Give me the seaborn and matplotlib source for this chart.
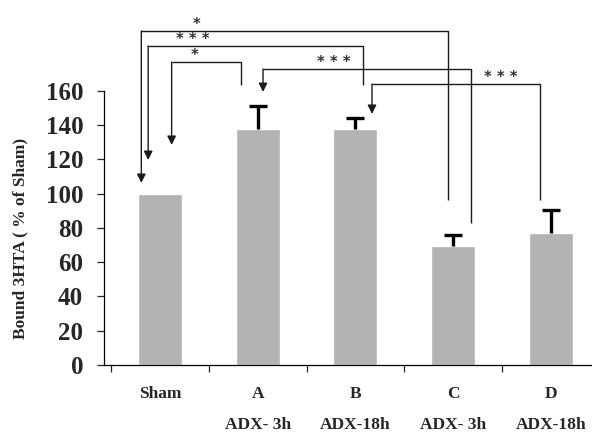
import matplotlib.pyplot as plt
import seaborn as sns
import numpy as np
import pandas as pd

# ---- Data ----
groups = ["Sham", "A", "B", "C", "D"]
treatments = ["", "ADX- 3h", "ADX-18h", "ADX- 3h", "ADX-18h"]
bound_pct = [100, 138, 137.5, 69.5, 77]
err_up = [0, 13, 6.5, 6.5, 13.5]
y_ticks = [0, 20, 40, 60, 80, 100, 120, 140, 160]

# significance brackets: (arrow x, arrow tip y, top y, other x, other end y, label, label x)
brackets = [
    (-0.19, 106.3, 195.0, 2.95, 96.4, "*", 0.37),
    (-0.12, 119.7, 186.3, 2.08, 163.5, "* * *", 0.34),
    (0.12, 128.5, 176.9, 0.83, 163.5, "*", 0.35),
    (1.055, 159.4, 172.8, 3.18, 82.9, "* * *", 1.78),
    (2.17, 146.6, 164.1, 3.89, 96.4, "* * *", 3.49),
]

sns.set_style("white")
plt.rcParams["font.family"] = ["Liberation Serif", "DejaVu Serif"]
plt.rcParams["font.weight"] = "bold"

W, H = 592, 433
fig = plt.figure(figsize=(W / 100, H / 100), dpi=100)
ax = fig.add_axes([104 / W, 68 / H, (W - 104) / W, 365 / H])

df = pd.DataFrame({"group": groups, "value": bound_pct})
sns.barplot(data=df, x="group", y="value", color="#b3b3b3", saturation=1,
            width=0.45, errorbar=None, ax=ax)

# upper-only error bars (no cap at the bar top)
pos = np.arange(len(groups))
vals = np.array(bound_pct)
errs = np.array(err_up)
has_err = errs > 0
_, caps, _ = ax.errorbar(pos[has_err], vals[has_err],
                         yerr=[np.zeros(has_err.sum()), errs[has_err]], fmt="none",
                         ecolor="black", elinewidth=2.4, capsize=6.5, capthick=2.4)
caps[0].set_visible(False)

# ---- Axes ----
ax.set_xlim(-0.572, 4.421)
ax.set_ylim(0, 213.1)
for s in ["top", "right"]:
    ax.spines[s].set_visible(False)
ax.spines["left"].set_bounds(0, 160)
for s in ["left", "bottom"]:
    ax.spines[s].set_color("black")
    ax.spines[s].set_linewidth(0.9)

ax.set_yticks(y_ticks)
ax.set_yticklabels([str(t) for t in y_ticks], fontsize=18, fontweight="bold")
ax.tick_params(axis="y", direction="out", length=5, width=0.9, pad=10, left=True)

ax.set_xticks(pos - 0.5)
ax.set_xticklabels([])
ax.tick_params(axis="x", which="major", direction="out", length=5, width=0.9, bottom=True)
ax.set_xticks(pos, minor=True)
ax.set_xticklabels([g if not t else f"{g}\n{t}" for g, t in zip(groups, treatments)],
                   minor=True, fontsize=12.5, fontweight="bold")
ax.tick_params(axis="x", which="minor", length=0, pad=15)
plt.setp(ax.get_xticklabels(minor=True), linespacing=2.3)
ax.set_xlabel("")
ax.set_ylabel("")

fig.text(20 / W, 1 - 238 / H, "Bound 3HTA ( % of Sham)", rotation=90,
         ha="center", va="center", fontsize=12.5, fontweight="bold")

# ---- Significance brackets ----
line_c = "#1a1a1a"
for ax_x, tip_y, top_y, ox, oy, lab, lx in brackets:
    ax.plot([ox, ox, ax_x], [oy, top_y, top_y], color=line_c, lw=1.0,
            clip_on=False, solid_capstyle="butt")
    ax.annotate("", xy=(ax_x, tip_y), xytext=(ax_x, top_y),
                arrowprops=dict(arrowstyle="-|>", color=line_c, lw=1.0,
                                mutation_scale=13, shrinkA=0, shrinkB=0),
                annotation_clip=False)
    ax.text(lx, top_y + 4.0, lab, ha="center", va="center", fontsize=10.5,
            color="#333333", family="DejaVu Sans")

fig.savefig("out.png", dpi=100)
